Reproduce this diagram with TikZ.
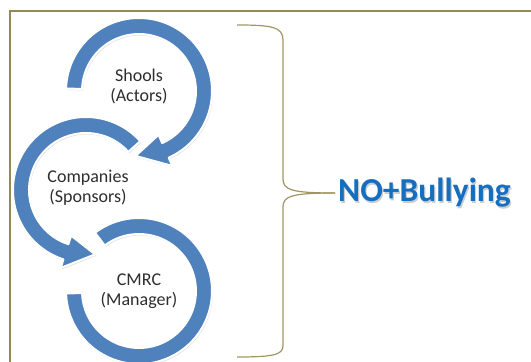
\documentclass[tikz,border=0pt]{standalone}
\usepackage{fontspec}
\setmainfont{Carlito}
\usetikzlibrary{positioning}
\definecolor{cycleBlue}{RGB}{79,129,189}
\definecolor{cycleTitle}{RGB}{22,110,190}
\definecolor{cycleOlive}{RGB}{148,138,84}
\definecolor{cycleBrace}{RGB}{160,150,100}
\definecolor{cycleText}{RGB}{45,45,45}

% ring arrow: centre, start angle, end of band, angle of the tip
\newcommand{\ringarrow}[4]{%
  \filldraw[ring] ([shift={(#1)}]#2:73pt) arc[start angle=#2,end angle=#3,radius=73pt]
    -- ([shift={(#1)}]#3:82pt) -- ([shift={(#1)}]#4:65pt)
    -- ([shift={(#1)}]#3:48pt) -- ([shift={(#1)}]#3:57pt)
    arc[start angle=#3,end angle=#2,radius=57pt] -- cycle;}

\begin{document}
\begin{tikzpicture}[
  x=1pt,y=1pt,
  ring/.style={
    fill=cycleBlue,
    draw=white,
    line width=2pt,
    line join=round,
    preaction={fill=black,opacity=0.12,transform canvas={xshift=1pt,yshift=-1.5pt}}
  },
  ringlabel/.style={
    align=center,
    text=cycleText,
    font=\fontsize{18}{20}\selectfont
  },
  title/.style={
    inner sep=1pt,
    font=\fontsize{33.5}{33.5}\selectfont\bfseries
  },
  brace/.style={cycleBrace,line width=1.2pt},
  frame/.style={cycleOlive,line width=2pt}
]
  \useasboundingbox (0,0) rectangle (531,362);
  \draw[frame] (531,350.5) -- (9.5,350.5) -- (9.5,0);

  \coordinate (actors) at (139,271);
  \coordinate (sponsors) at (86,172);
  \coordinate (manager) at (139,71);

  \filldraw[ring] ([shift={(manager)}]127:73pt) arc[start angle=127,end angle=-178,radius=73pt]
    -- ([shift={(manager)}]-178:57pt) arc[start angle=-178,end angle=127,radius=57pt] -- cycle;
  \ringarrow{sponsors}{42}{252}{278}
  \ringarrow{actors}{178}{-66}{-93}

  \node[ringlabel] (actorsText) at ([yshift=4pt]actors) {Shools\\(Actors)};
  \node[ringlabel] (sponsorsText) at ([xshift=2pt,yshift=2pt]sponsors) {Companies\\(Sponsors)};
  \node[ringlabel] (managerText) at (manager) {CMRC\\(Manager)};

  \coordinate (tip) at (335,169);
  \draw[brace] (237,337) .. controls (272,337) and (283,335) .. (283,322) -- (283,183)
    .. controls (283,172) and (292,169) .. (tip);
  \draw[brace] (tip) .. controls (292,169) and (283,166) .. (283,155) -- (283,16)
    .. controls (283,7) and (272,5) .. (237,5);

  \node[title,text=black,opacity=0.2,right=2pt of tip,xshift=1.2pt,yshift=-1.2pt] (sloganShade) {NO+Bullying};
  \node[title,text=cycleTitle,right=2pt of tip] (slogan) {NO+Bullying};
\end{tikzpicture}
\end{document}
